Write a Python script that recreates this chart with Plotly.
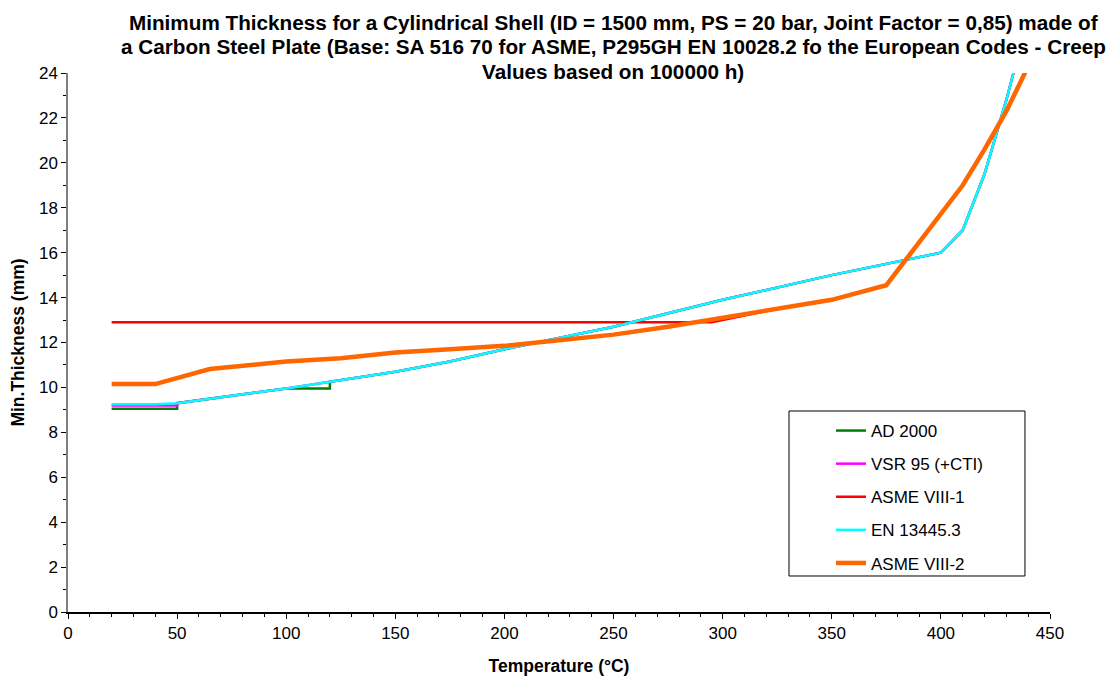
import plotly.graph_objects as go

# Temperature (°C) / minimum thickness (mm)
ad_T = [20, 50, 50, 100, 120, 120, 150, 175, 200, 250, 300, 350, 375, 400, 410, 420, 430, 440]
ad_t = [9.05, 9.05, 9.3, 9.95, 9.95, 10.25, 10.7, 11.15, 11.7, 12.7, 13.9, 15.0, 15.5, 16.0, 17.0, 19.5, 22.8, 26.5]

vsr_T = [20, 50, 50, 100, 150, 175, 200, 250, 300, 350, 375, 400, 410, 420, 430, 440]
vsr_t = [9.2, 9.2, 9.3, 9.95, 10.7, 11.15, 11.7, 12.7, 13.9, 15.0, 15.5, 16.0, 17.0, 19.5, 22.8, 26.5]

asme1_T = [20, 295, 325, 350, 375]
asme1_t = [12.9, 12.9, 13.5, 13.9, 14.55]

en_T = [20, 40, 50, 100, 150, 175, 200, 250, 300, 350, 375, 400, 410, 420, 430, 440]
en_t = [9.25, 9.25, 9.3, 9.95, 10.7, 11.15, 11.7, 12.7, 13.9, 15.0, 15.5, 16.0, 17.0, 19.5, 22.8, 26.5]

asme2_T = [20, 40, 65, 100, 125, 150, 175, 200, 225, 250, 275, 300, 325, 350, 375, 400, 410, 420, 430, 440]
asme2_t = [10.15, 10.15, 10.82, 11.15, 11.3, 11.55, 11.7, 11.85, 12.1, 12.35, 12.7, 13.1, 13.5, 13.9, 14.55,
           17.7, 19.0, 20.6, 22.3, 24.3]

series = [
    ("AD 2000", ad_T, ad_t, "#008000", 2.5),
    ("VSR 95 (+CTI)", vsr_T, vsr_t, "#ff00ff", 2.5),
    ("ASME VIII-1", asme1_T, asme1_t, "#ff0000", 2.5),
    ("EN 13445.3", en_T, en_t, "#00ffff", 2.5),
    ("ASME VIII-2", asme2_T, asme2_t, "#ff6600", 4.5),
]

title_lines = [
    "Minimum Thickness for a Cylindrical Shell (ID = 1500 mm, PS = 20 bar, Joint Factor = 0,85) made of",
    "a Carbon Steel Plate (Base: SA 516 70 for ASME, P295GH EN 10028.2 fo the European Codes - Creep",
    "Values based on 100000 h)",
]

FONT = "Liberation Sans, Arial, sans-serif"

fig = go.Figure()
for name, xs, ys, col, w in series:
    fig.add_trace(go.Scatter(x=xs, y=ys, mode="lines", name=name, legendgroup=name,
                             line=dict(color=col, width=w)))

# title lines as annotations (tight line spacing like the reference)
for i, (line, yy) in enumerate(zip(title_lines, [1.0946, 1.0492, 1.0028])):
    fig.add_annotation(text="<b>" + line + "</b>", xref="paper", yref="paper",
                       x=0.555, y=yy, xanchor="center", yanchor="middle", showarrow=False,
                       font=dict(family=FONT, size=20.7, color="black"))

# legend frame
fig.add_shape(type="rect", xref="paper", yref="paper", x0=0.7342, x1=0.9745, y0=0.0668, y1=0.3729,
              line=dict(color="black", width=1), fillcolor="white", layer="below")

fig.update_layout(
    width=1114, height=678,
    paper_bgcolor="white", plot_bgcolor="white",
    margin=dict(l=60, r=72, t=65, b=74),
    font=dict(family=FONT, size=17, color="black"),
    showlegend=True,
    legend=dict(
        x=0.777, y=0.3692, xanchor="left", yanchor="top",
        borderwidth=0, bgcolor="rgba(0,0,0,0)",
        font=dict(family=FONT, size=17, color="black"),
        tracegroupgap=8,
    ),
    xaxis=dict(
        range=[0, 450], dtick=50, showgrid=False, zeroline=False, automargin=False,
        showline=True, linecolor="black", linewidth=1.5,
        ticks="outside", ticklen=5, tickcolor="black",
        minor=dict(dtick=10, ticks="outside", ticklen=3, tickcolor="black"),
        tickfont=dict(size=17),
        title=dict(text="<b>Temperature (°C)</b>", font=dict(size=17.5), standoff=18),
    ),
    yaxis=dict(
        range=[0, 24], dtick=2, showgrid=False, zeroline=False, automargin=False,
        showline=True, linecolor="#808080", linewidth=1.5,
        ticks="outside", ticklen=5, tickcolor="black",
        minor=dict(dtick=1, ticks="outside", ticklen=3, tickcolor="black"),
        tickfont=dict(size=17),
        title=dict(text="<b>Min.Thickness (mm)</b>", font=dict(size=17.5), standoff=12),
    ),
)

fig.write_html("out.html")
